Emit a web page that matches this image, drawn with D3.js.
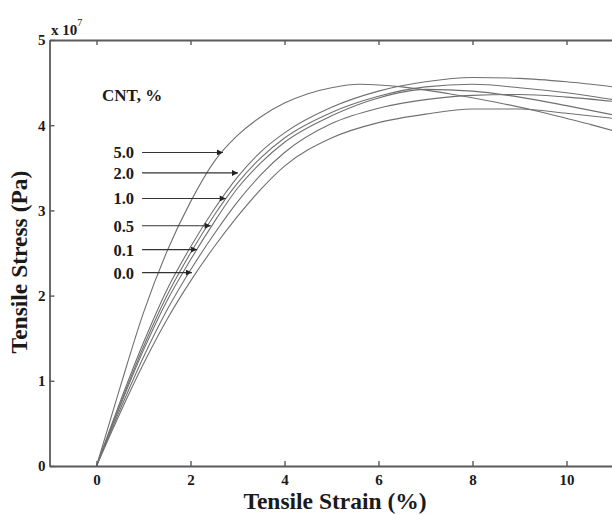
<!DOCTYPE html>
<html>
<head>
<meta charset="utf-8">
<script src="https://cdn.jsdelivr.net/npm/d3@7"></script>
<style>
  html, body { margin: 0; padding: 0; background: #fff; }
  svg { display: block; }
  text { font-family: "Liberation Serif", "Times New Roman", serif; fill: #1a1a1a; }
</style>
</head>
<body>
<svg id="chart" width="612" height="515"></svg>
<script>
// Tensile stress (×10^7 Pa) versus tensile strain (%) for each CNT loading.
const strain50 = [0, 0.5, 1.0, 1.5, 2.0, 2.5, 3.0, 3.5, 4.0, 4.5, 5.0, 5.6, 6.5, 7.5, 8.5, 9.5, 10.5, 11.5];
const stress50 = [0, 0.92, 1.80, 2.52, 3.10, 3.57, 3.88, 4.10, 4.26, 4.37, 4.44, 4.48, 4.45, 4.37, 4.27, 4.15, 4.01, 3.86];

const strain20 = [0, 0.5, 1.0, 1.5, 2.0, 2.5, 3.0, 3.5, 4.0, 5.0, 6.0, 7.0, 8.0, 9.0, 10.0, 11.0, 12.0];
const stress20 = [0, 0.75, 1.45, 2.07, 2.57, 3.01, 3.39, 3.69, 3.91, 4.21, 4.40, 4.51, 4.56, 4.55, 4.51, 4.45, 4.38];

const strain10 = [0, 0.5, 1.0, 1.5, 2.0, 2.5, 3.0, 3.5, 4.0, 5.0, 6.0, 7.0, 8.0, 9.0, 10.0, 11.0, 12.0];
const stress10 = [0, 0.72, 1.40, 2.00, 2.50, 2.94, 3.32, 3.62, 3.85, 4.15, 4.34, 4.45, 4.48, 4.44, 4.38, 4.30, 4.22];

const strain05 = [0, 0.5, 1.0, 1.5, 2.0, 2.5, 3.0, 3.5, 4.0, 5.0, 6.0, 7.0, 8.0, 9.0, 10.0, 11.0, 12.0];
const stress05 = [0, 0.70, 1.36, 1.94, 2.42, 2.86, 3.26, 3.56, 3.80, 4.11, 4.32, 4.42, 4.40, 4.33, 4.23, 4.12, 4.00];

const strain01 = [0, 0.5, 1.0, 1.5, 2.0, 2.5, 3.0, 3.5, 4.0, 5.0, 6.0, 7.0, 8.0, 9.0, 10.0, 11.0, 12.0];
const stress01 = [0, 0.66, 1.28, 1.83, 2.30, 2.72, 3.10, 3.42, 3.68, 4.02, 4.20, 4.30, 4.35, 4.36, 4.33, 4.28, 4.22];

const strain00 = [0, 0.5, 1.0, 1.5, 2.0, 2.5, 3.0, 3.5, 4.0, 5.0, 6.0, 7.0, 8.0, 9.0, 10.0, 11.0, 12.0];
const stress00 = [0, 0.62, 1.20, 1.72, 2.17, 2.57, 2.93, 3.25, 3.52, 3.85, 4.03, 4.13, 4.19, 4.19, 4.14, 4.08, 4.01];

// Legend labels and where each arrow tip lands (strain %, stress ×10^7 Pa)
const cntLabels = ["5.0", "2.0", "1.0", "0.5", "0.1", "0.0"];
const arrowTipStrain = [2.69, 3.01, 2.75, 2.43, 2.14, 2.03];
const arrowTipStress = [3.68, 3.44, 3.14, 2.82, 2.54, 2.27];
const arrowTailStrain = 0.97;

const xTicks = [0, 2, 4, 6, 8, 10];
const yTicks = [0, 1, 2, 3, 4, 5];

const series = [
  { x: strain50, y: stress50 },
  { x: strain20, y: stress20 },
  { x: strain10, y: stress10 },
  { x: strain05, y: stress05 },
  { x: strain01, y: stress01 },
  { x: strain00, y: stress00 }
];

const svg = d3.select("#chart");
const plotLeft = 49.5, plotTop = 40, plotBottom = 466;
const x = d3.scaleLinear().domain([-1, 12]).range([plotLeft, plotLeft + 13 * 47]);
const y = d3.scaleLinear().domain([0, 5]).range([plotBottom, plotTop]);

const axisColor = "#5a5a5a";
const curveColor = "#707070";

// Curves
const line = d3.line()
  .x(d => x(d[0]))
  .y(d => y(d[1]))
  .curve(d3.curveMonotoneX);

const plot = svg.append("g");
plot.append("clipPath").attr("id", "plotclip")
  .append("rect").attr("x", plotLeft).attr("y", plotTop).attr("width", 700).attr("height", plotBottom - plotTop);

plot.append("g").attr("clip-path", "url(#plotclip)")
  .selectAll("path")
  .data(series)
  .join("path")
  .attr("d", s => line(s.x.map((v, i) => [v, s.y[i]])))
  .attr("fill", "none")
  .attr("stroke", curveColor)
  .attr("stroke-width", 1.1);

// Axes: bottom/left labelled, top with inward ticks only
const bottomAxis = d3.axisBottom(x).tickValues(xTicks).tickSizeInner(-5).tickSizeOuter(0).tickPadding(8).tickFormat(d3.format("d"));
const leftAxis = d3.axisLeft(y).tickValues(yTicks).tickSizeInner(-5).tickSizeOuter(0).tickPadding(4).tickFormat(d3.format("d"));
const topAxis = d3.axisTop(x).tickValues(xTicks).tickSizeInner(-5).tickSizeOuter(0).tickFormat("");

function styleAxis(g) {
  g.select(".domain").attr("stroke", axisColor).attr("stroke-width", 1.8);
  g.selectAll(".tick line").attr("stroke", axisColor).attr("stroke-width", 1.4);
  g.selectAll(".tick text")
    .attr("fill", "#1a1a1a")
    .style("font-family", "'Liberation Serif', serif")
    .style("font-weight", "bold")
    .style("font-size", "15px");
}

svg.append("g").attr("transform", `translate(0,${plotBottom})`).call(bottomAxis).call(styleAxis);
svg.append("g").attr("transform", `translate(0,${plotTop})`).call(topAxis).call(styleAxis);
svg.append("g").attr("transform", `translate(${plotLeft},0)`).call(leftAxis).call(styleAxis);

// Exponent marker above the y axis
const expo = svg.append("text").attr("x", 51).attr("y", 35)
  .style("font-size", "15px").style("font-weight", "bold");
expo.append("tspan").text("x 10");
expo.append("tspan").attr("dy", -9).style("font-size", "10px").style("font-weight", "normal").text("7");

// Axis titles
svg.append("text")
  .attr("x", 335).attr("y", 509)
  .attr("text-anchor", "middle")
  .style("font-weight", "bold").style("font-size", "23.5px")
  .text("Tensile Strain (%)");

svg.append("text")
  .attr("transform", "translate(27,262) rotate(-90)")
  .attr("text-anchor", "middle")
  .style("font-weight", "bold").style("font-size", "23.5px")
  .text("Tensile Stress (Pa)");

// Legend with arrows pointing to each curve
svg.append("defs").append("marker")
  .attr("id", "arrowhead")
  .attr("viewBox", "0 0 10 10")
  .attr("refX", 10).attr("refY", 5)
  .attr("markerWidth", 9).attr("markerHeight", 6)
  .attr("markerUnits", "userSpaceOnUse")
  .attr("orient", "auto")
  .append("path").attr("d", "M0,0 L10,5 L0,10 Z").attr("fill", "#222");

svg.append("text")
  .attr("x", 102).attr("y", 101)
  .style("font-weight", "bold").style("font-size", "17px")
  .text("CNT, %");

const legend = svg.append("g");
cntLabels.forEach((lab, i) => {
  const yy = y(arrowTipStress[i]);
  legend.append("text")
    .attr("x", 134).attr("y", yy + 6)
    .attr("text-anchor", "end")
    .style("font-weight", "bold").style("font-size", "16.5px")
    .text(lab);
  legend.append("line")
    .attr("x1", x(arrowTailStrain)).attr("y1", yy)
    .attr("x2", x(arrowTipStrain[i])).attr("y2", yy)
    .attr("stroke", "#333").attr("stroke-width", 1.1)
    .attr("marker-end", "url(#arrowhead)");
});
</script>
</body>
</html>
